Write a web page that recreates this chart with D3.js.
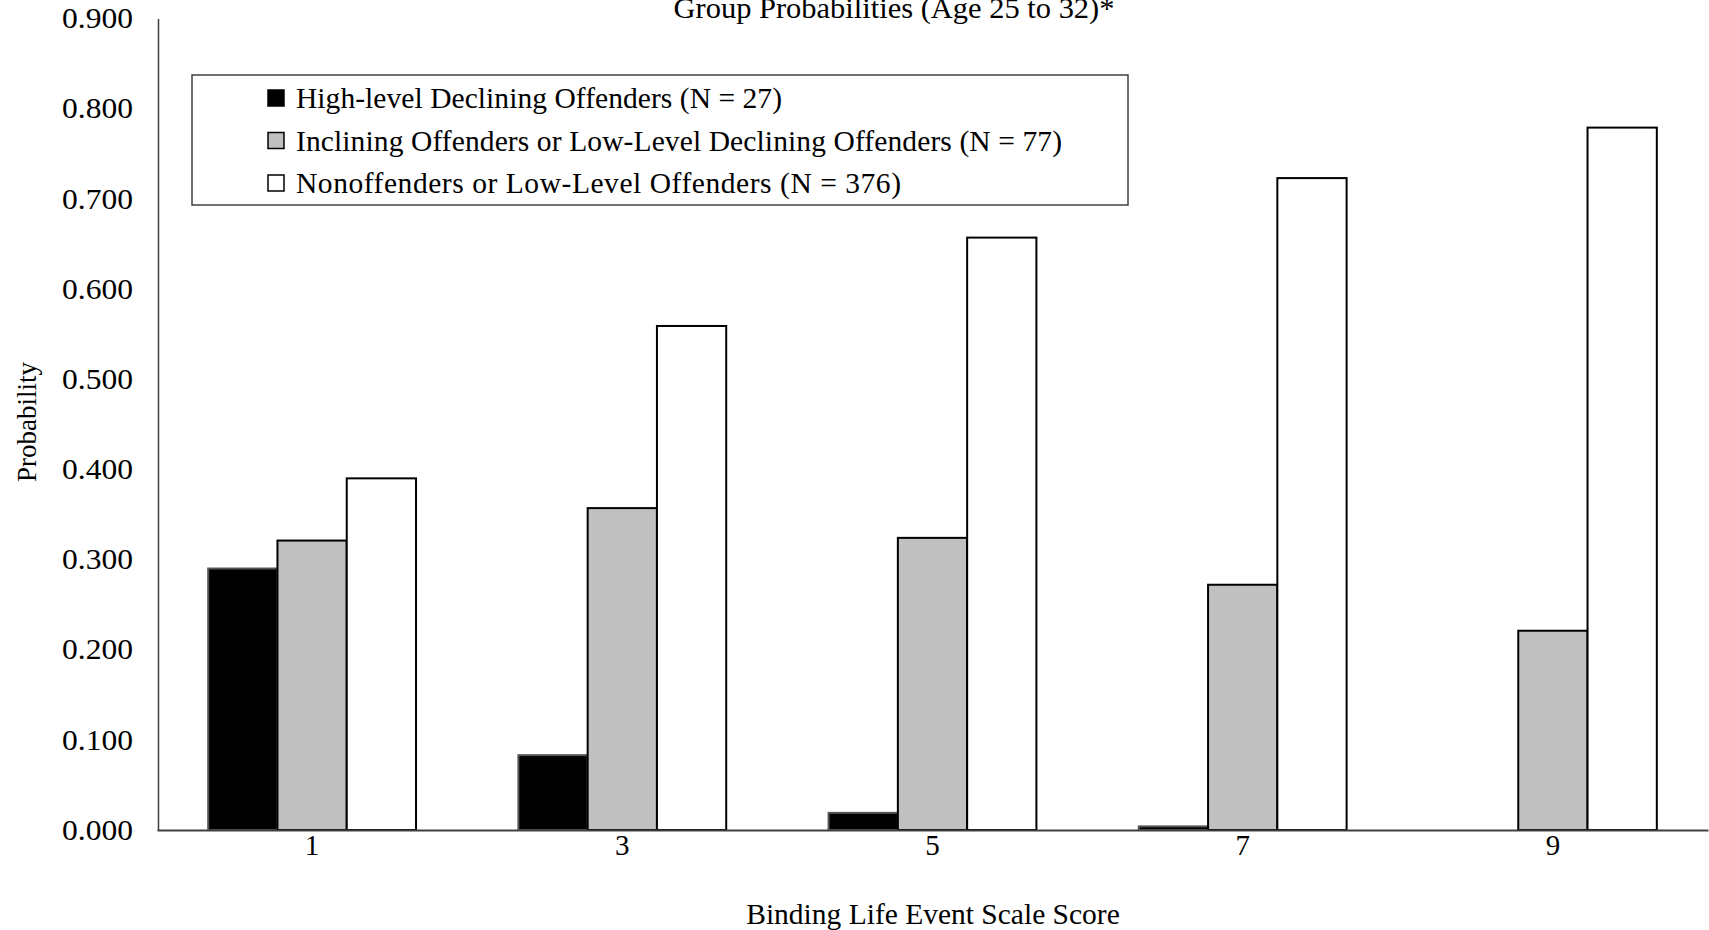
<!DOCTYPE html>
<html><head><meta charset="utf-8">
<script src="https://cdn.jsdelivr.net/npm/d3@7"></script>
<style>
html,body{margin:0;padding:0;background:#fff;overflow:hidden;}
svg text{font-family:"Liberation Serif","Times New Roman",serif;fill:#000;}
</style></head><body>
<svg id="chart" width="1709" height="930"></svg>
<script>
const categories = ["1","3","5","7","9"];
const seriesNames = [
  "High-level Declining Offenders (N = 27)",
  "Inclining Offenders or Low-Level Declining Offenders (N = 77)",
  "Nonoffenders or Low-Level Offenders (N = 376)"
];
const highDeclining = [0.290, 0.083, 0.019, 0.004, 0.000];
const incliningLow = [0.321, 0.357, 0.324, 0.272, 0.221];
const nonoffenders = [0.390, 0.559, 0.657, 0.723, 0.779];
const yTicks = [0, 0.1, 0.2, 0.3, 0.4, 0.5, 0.6, 0.7, 0.8, 0.9];
const titleText = "Group Probabilities (Age 25 to 32)*";
const xTitle = "Binding Life Event Scale Score";
const yTitle = "Probability";

const series = [highDeclining, incliningLow, nonoffenders];
const fills = ["#000000", "#c0c0c0", "#ffffff"];
const strokes = ["#555555", "#000000", "#000000"];
const legendWidths = [486, 766, 605];

const svg = d3.select("#chart");
const mLeft = 158, mRight = 1709, mTop = 18.5, mBottom = 830;

const x = d3.scaleBand().domain(categories).range([mLeft - 1, mRight - 1]).paddingInner(0.33).paddingOuter(0.165);
const xs = d3.scaleBand().domain(d3.range(series.length)).range([0, x.bandwidth()]).padding(0);
const y = d3.scaleLinear().domain([0, 0.9]).range([mBottom, mTop]);

// title
svg.append("text").attr("x", 894).attr("y", 18).attr("text-anchor", "middle")
  .attr("textLength", 441).attr("lengthAdjust", "spacingAndGlyphs")
  .style("font-size", "30px").text(titleText);

// bars
const groups = svg.append("g").selectAll("g").data(categories).join("g")
  .attr("transform", d => `translate(${x(d)},0)`);
groups.selectAll("rect").data((d, i) => series.map((s, k) => ({k, v: s[i]})))
  .join("rect")
  .attr("x", d => xs(d.k))
  .attr("width", xs.bandwidth())
  .attr("y", d => y(d.v))
  .attr("height", d => y(0) - y(d.v))
  .attr("fill", d => fills[d.k])
  .attr("stroke", d => d.v > 0 ? strokes[d.k] : "none")
  .attr("stroke-width", 2);

// y axis
const yAxis = d3.axisLeft(y).tickValues(yTicks).tickFormat(d3.format(".3f")).tickSize(0).tickPadding(25);
const yg = svg.append("g").attr("transform", `translate(${mLeft},0)`).call(yAxis);
yg.select(".domain").attr("stroke", "#404040").attr("stroke-width", 1.5);
yg.selectAll("text").style("font-size", "29px").style("font-family", "Liberation Serif")
  .attr("textLength", 71).attr("lengthAdjust", "spacingAndGlyphs");

// x axis
const xAxis = d3.axisBottom(x).tickSize(0).tickPadding(4);
const xg = svg.append("g").attr("transform", `translate(0,${mBottom})`).call(xAxis);
xg.select(".domain").attr("stroke", "#404040").attr("stroke-width", 2);
xg.selectAll("text").style("font-size", "29px").style("font-family", "Liberation Serif");

// axis titles
svg.append("text").attr("x", 933).attr("y", 924).attr("text-anchor", "middle")
  .style("font-size", "29.5px").text(xTitle);
svg.append("text").attr("transform", "translate(36,422) rotate(-90)").attr("text-anchor", "middle")
  .style("font-size", "27px").text(yTitle);

// legend
const lg = svg.append("g");
lg.append("rect").attr("x", 192).attr("y", 75).attr("width", 936).attr("height", 130)
  .attr("fill", "#fff").attr("stroke", "#404040").attr("stroke-width", 1.5);
const rows = lg.selectAll("g.row").data(seriesNames).join("g").attr("class", "row")
  .attr("transform", (d, i) => `translate(0,${98 + i * 42.5})`);
rows.append("rect").attr("x", 268).attr("y", -8).attr("width", 16).attr("height", 16)
  .attr("fill", (d, i) => fills[i]).attr("stroke", "#000").attr("stroke-width", 1.5);
rows.append("text").attr("x", 296).attr("y", 0).attr("dy", "0.35em")
  .attr("textLength", (d, i) => legendWidths[i]).attr("lengthAdjust", "spacing")
  .style("font-size", "29.5px").text(d => d);
</script>
</body></html>
